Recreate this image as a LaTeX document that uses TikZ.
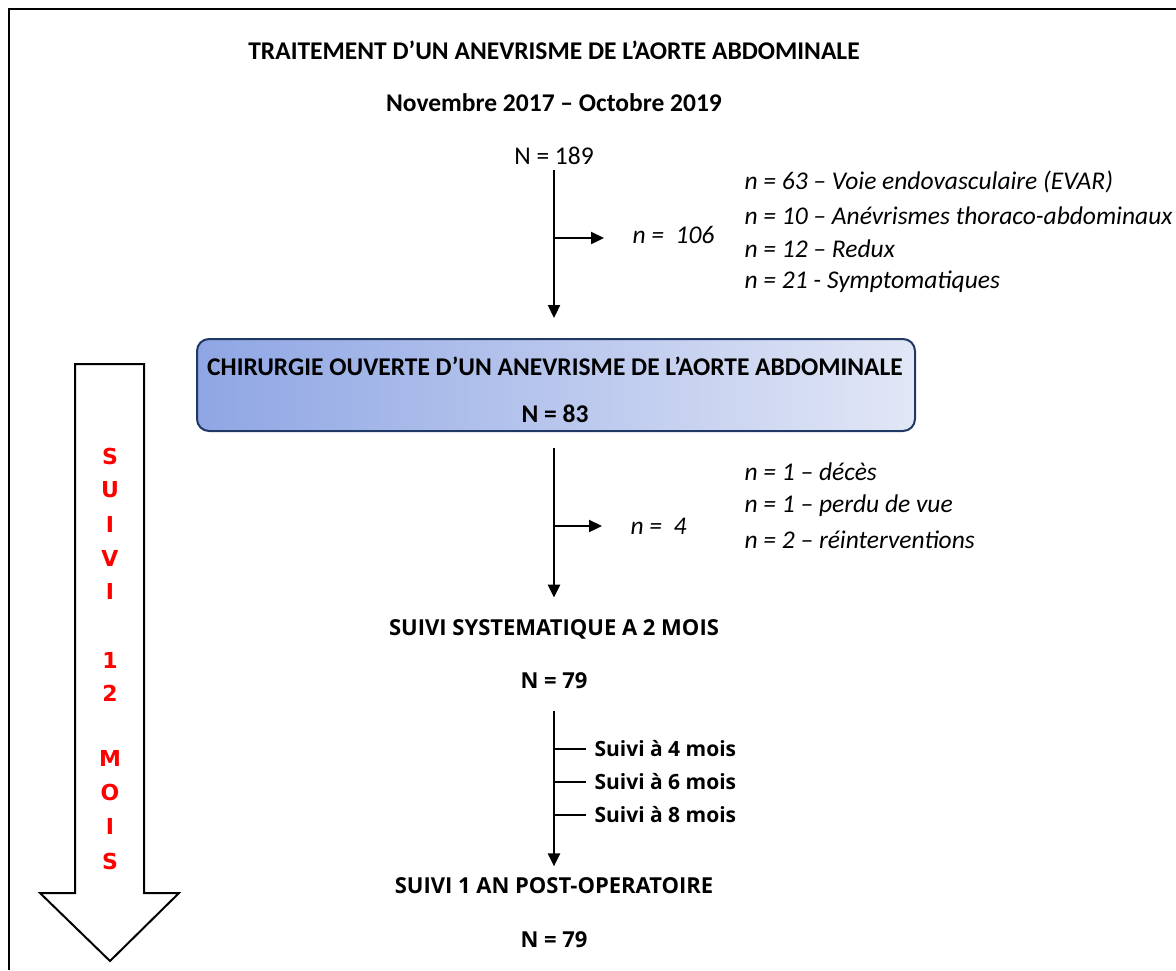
\documentclass[tikz,border=0pt]{standalone}
\usepackage{fontspec}
\setmainfont{Carlito}
\newfontfamily\suivifont{Open Sans}
\newfontfamily\moisfont{DejaVu Sans}
\usetikzlibrary{arrows.meta}
\definecolor{boxleft}{RGB}{143,166,228}
\definecolor{boxright}{RGB}{226,231,246}
\definecolor{boxline}{RGB}{31,56,100}
\tikzset{
  flow/.style={line width=2.3pt, -{Triangle[length=13pt,width=12pt]}},
  tick/.style={line width=2.3pt},
  titre/.style={font=\fontsize{25.5}{30}\selectfont\bfseries},
  plain/.style={font=\fontsize{25.5}{30}\selectfont},
  detail/.style={font=\fontsize{25.5}{30}\selectfont\itshape, anchor=west},
  etape/.style={font=\fontsize{22}{26}\selectfont\suivifont\bfseries},
  mois/.style={font=\fontsize{21}{25}\selectfont\suivifont\bfseries, anchor=west},
  rouge/.style={font=\fontsize{22}{26}\selectfont\moisfont\bfseries, text=red}
}
\begin{document}
\begin{tikzpicture}[x=1pt,y=-1pt]
  \useasboundingbox (0,0) rectangle (1176,970);
  % cadre
  \draw[line width=2.5pt] (1176,9) -- (9,9) -- (9,970);
  % en-tete
  \node[titre] (titre) at (554,50) {TRAITEMENT D’UN ANEVRISME DE L’AORTE ABDOMINALE};
  \node[titre] (periode) at (554,103) {Novembre 2017 – Octobre 2019};
  \node[plain] (n189) at (554,156) {N = 189};
  % exclusions
  \coordinate (b1) at (554,238);
  \node[detail] (n106) at (629,235) {n =\ \ 106};
  \node[detail] (evar) at (741,182) {n = 63 – Voie endovasculaire (EVAR)};
  \node[detail] (thor) at (741,216) {n = 10 – Anévrismes thoraco-abdominaux};
  \node[detail] (redux) at (741,249) {n = 12 – Redux};
  \node[detail] (sympt) at (741,282) {n = 21 - Symptomatiques};
  % chirurgie
  \node[draw=boxline, line width=2pt, rounded corners=12pt,
        left color=boxleft, right color=boxright,
        minimum width=718pt, minimum height=92pt] (chir) at (556,385) {};
  \node[titre] (chirtxt) at (555,366) {CHIRURGIE OUVERTE D’UN ANEVRISME DE L’AORTE ABDOMINALE};
  \node[titre] (n83) at (555,414) {N = 83};
  \draw[flow, shorten <=2pt, shorten >=20pt] (n189) -- (n189 |- chir.north);
  \draw[flow, shorten >=25pt] (b1) -- (b1 -| n106.west);
  % perdus
  \coordinate (b2) at (554,526);
  \node[detail] (n4) at (627,526) {n =\ \ 4};
  \node[detail] (deces) at (741,472) {n = 1 – décès};
  \node[detail] (perdu) at (741,506) {n = 1 – perdu de vue};
  \node[detail] (reint) at (741,540) {n = 2 – réinterventions};
  \node[etape] (deuxmois) at (554,629) {SUIVI SYSTEMATIQUE A 2 MOIS};
  \node[etape] (n79a) at (554,681) {N = 79};
  \draw[flow, shorten <=16pt, shorten >=18pt] (chir.south -| b2) -- (deuxmois.north -| b2);
  \draw[flow, shorten >=25pt] (b2) -- (b2 -| n4.west);
  % suivi intermediaire
  \node[mois] (m4) at (591,749) {Suivi à 4 mois};
  \node[mois] (m6) at (591,782) {Suivi à 6 mois};
  \node[mois] (m8) at (591,815) {Suivi à 8 mois};
  \node[etape] (unan) at (554,886) {SUIVI 1 AN POST-OPERATOIRE};
  \node[etape] (n79b) at (554,940) {N = 79};
  \draw[flow, shorten <=18pt, shorten >=8pt] (n79a) -- (unan);
  \foreach \m in {m4,m6,m8}
    \draw[tick] (\m.west -| unan) -- ([xshift=-5pt]\m.west);
  % grande fleche
  \draw[line width=2pt, fill=white] (75,364) -- (144,364) -- (144,893) -- (179,893)
    -- (110,961) -- (40,893) -- (75,893) -- cycle;
  \foreach \l/\y in {S/456,U/490,I/524,V/558,I/591,1/660,2/693,M/758,O/792,I/826,S/861}
    \node[rouge] at (110,\y) {\l};
\end{tikzpicture}
\end{document}
